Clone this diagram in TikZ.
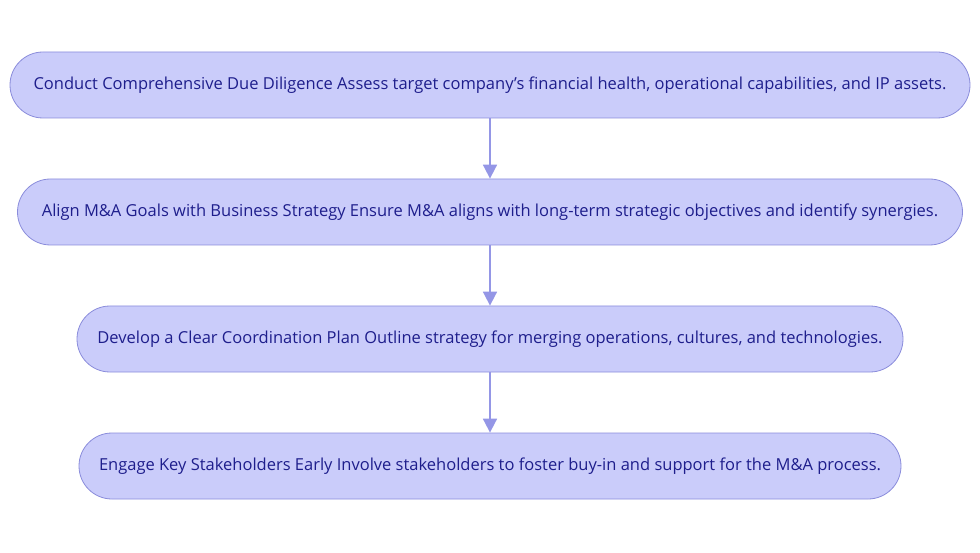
\documentclass[tikz,border=0pt]{standalone}
\usepackage{fontspec}
\setmainfont{Open Sans}
\usetikzlibrary{arrows.meta}

\definecolor{stepfill}{HTML}{CACCFA}
\definecolor{stepline}{HTML}{8A8CDB}
\definecolor{steptext}{HTML}{1E1E8C}
\definecolor{arrowcol}{HTML}{9496E6}

\begin{document}
\begin{tikzpicture}[
    x=1pt,
    y=-1pt,
    stepbox/.style={
        draw=stepline,
        fill=stepfill,
        line width=0.8pt,
        rounded corners=33pt,
        minimum height=66pt,
        text=steptext,
        font=\fontsize{16.5}{20}\selectfont,
        inner sep=0pt
    },
    flow/.style={
        draw=arrowcol,
        line width=1.8pt,
        -{Triangle[width=14pt,length=14pt]}
    }
]

% =========================================================
% Рамка рисунка
% =========================================================

\useasboundingbox (0,0) rectangle (980,553);

% =========================================================
% Шаги
% =========================================================

\node[stepbox, minimum width=960pt] (diligence) at (490,85)
    {Conduct Comprehensive Due Diligence Assess target company's financial health, operational capabilities, and IP assets.};

\node[stepbox, minimum width=945pt] (goals) at (490,212)
    {Align M\&A Goals with Business Strategy Ensure M\&A aligns with long-term strategic objectives and identify synergies.};

\node[stepbox, minimum width=826pt] (plan) at (490,339)
    {Develop a Clear Coordination Plan Outline strategy for merging operations, cultures, and technologies.};

\node[stepbox, minimum width=822pt] (stakeholders) at (490,466)
    {Engage Key Stakeholders Early Involve stakeholders to foster buy-in and support for the M\&A process.};

% =========================================================
% Стрелки
% =========================================================

\draw[flow] (diligence) -- (goals);
\draw[flow] (goals) -- (plan);
\draw[flow] (plan) -- (stakeholders);

\end{tikzpicture}
\end{document}
